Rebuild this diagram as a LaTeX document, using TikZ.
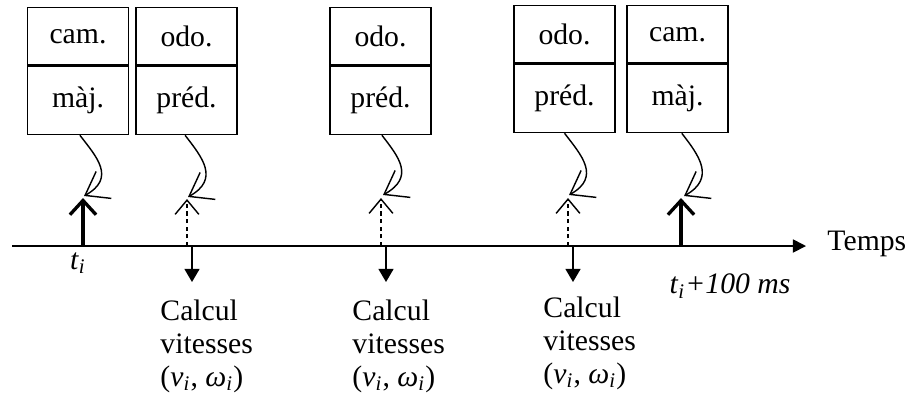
\documentclass[tikz,border=0pt]{standalone}
\usepackage{fontspec}
\setmainfont{Liberation Serif}
\usetikzlibrary{arrows.meta,positioning}

\begin{document}
\begin{tikzpicture}[x=0.421pt,y=-0.421pt,>=Latex,
  font=\fontsize{12.5}{13.9}\selectfont,
  celltop/.style={draw,line width=0.6pt,minimum width=42.5pt,minimum height=24pt,inner sep=0pt,anchor=north},
  cellbot/.style={draw,line width=0.6pt,minimum width=42.5pt,minimum height=28.8pt,inner sep=0pt},
  wiggle/.style={line width=0.6pt,-{Straight Barb[length=9pt,width=13pt,line width=0.6pt]}},
  upthick/.style={line width=1.4pt,-{Straight Barb[length=6pt,width=11pt,line width=1.4pt]}},
  updash/.style={line width=0.6pt,dash pattern=on 1.8pt off 1.4pt,-{Straight Barb[length=6pt,width=10pt,line width=0.6pt,sharp]}},
  downarr/.style={line width=0.6pt,-{Triangle[length=5.5pt,width=6.3pt]}},
  calc/.style={align=left,anchor=north west,inner sep=0pt}]
\useasboundingbox (0,0) rectangle (909,394);

% time axis
\coordinate (t0) at (12,246);
\coordinate (t1) at (806,246);
\draw[line width=0.7pt,-{Triangle[length=5.5pt,width=5.5pt]}] (t0)--(t1);
\node[anchor=west,inner sep=0pt] (temps) at (827,244) {Temps};

% boxes
\node[celltop] (r1) at (78,7) {cam.};
\node[cellbot,below=0pt of r1] (q1) {màj.};
\node[celltop] (r2) at (186.5,7) {odo.};
\node[cellbot,below=0pt of r2] (q2) {préd.};
\node[celltop] (r3) at (380.5,7) {odo.};
\node[cellbot,below=0pt of r3] (q3) {préd.};
\node[celltop] (r4) at (564.5,5) {odo.};
\node[cellbot,below=0pt of r4] (q4) {préd.};
\node[celltop] (r5) at (677.5,5) {cam.};
\node[cellbot,below=0pt of r5] (q5) {màj.};

% events on the axis
\coordinate (a1) at (83,246);  \coordinate (u1) at (83,198);  \coordinate (s1) at (84,196);
\coordinate (a2) at (187,246); \coordinate (u2) at (187,199); \coordinate (s2) at (188,197);
\coordinate (a3) at (381,246); \coordinate (u3) at (381,198); \coordinate (s3) at (383,195);
\coordinate (a4) at (568,246); \coordinate (u4) at (568,198); \coordinate (s4) at (569,195);
\coordinate (a5) at (681,246); \coordinate (u5) at (681,198); \coordinate (s5) at (684,196);
\coordinate (d2) at (192,246); \coordinate (e2) at (192,282);
\coordinate (d3) at (386,246); \coordinate (e3) at (386,282);
\coordinate (d4) at (573,246); \coordinate (e4) at (573,282);

\draw[upthick] (a1)--(u1);
\draw[updash] (a2)--(u2);
\draw[updash] (a3)--(u3);
\draw[updash] (a4)--(u4);
\draw[upthick] (a5)--(u5);
\draw[downarr] (d2)--(e2);
\draw[downarr] (d3)--(e3);
\draw[downarr] (d4)--(e4);

\draw[wiggle] ([xshift=0.8pt]q1.south) .. controls +(17,22) and +(32,-18) .. (s1);
\draw[wiggle] ([xshift=-0.6pt]q2.south) .. controls +(17,22) and +(32,-18) .. (s2);
\draw[wiggle] ([xshift=0.6pt]q3.south) .. controls +(17,22) and +(32,-18) .. (s3);
\draw[wiggle] (q4.south) .. controls +(17,22) and +(32,-18) .. (s4);
\draw[wiggle] ([xshift=1.8pt]q5.south) .. controls +(17,22) and +(32,-18) .. (s5);

% labels
\node[inner sep=0pt] (ti) at (78,263) {\textit{t}\textsubscript{\textit{i}}};
\node[inner sep=0pt] (tf) at (730,286) {\textit{t}\textsubscript{\textit{i}}\textit{+100 ms}};
\node[calc] (k2) at (160,299) {Calcul\\vitesses\\(\textit{v}\textsubscript{\textit{i}}, \textit{ω}\textsubscript{\textit{i}})};
\node[calc] (k3) at (352,299) {Calcul\\vitesses\\(\textit{v}\textsubscript{\textit{i}}, \textit{ω}\textsubscript{\textit{i}})};
\node[calc] (k4) at (543,296) {Calcul\\vitesses\\(\textit{v}\textsubscript{\textit{i}}, \textit{ω}\textsubscript{\textit{i}})};
\end{tikzpicture}
\end{document}
